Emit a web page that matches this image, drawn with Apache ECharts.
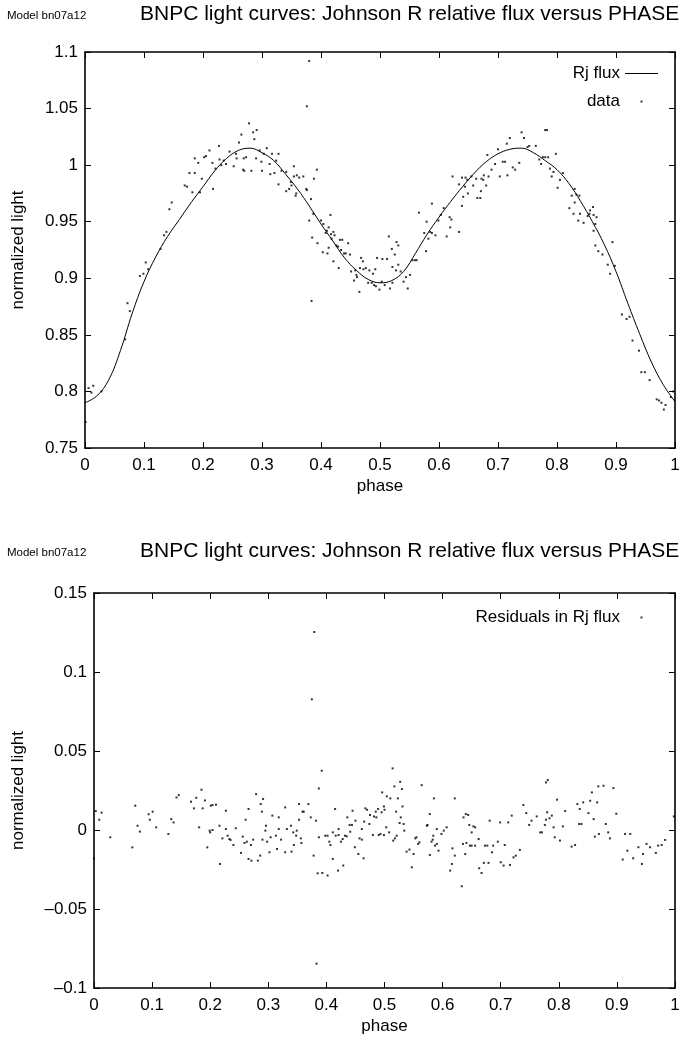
<!DOCTYPE html>
<html><head><meta charset="utf-8">
<script src="https://cdn.jsdelivr.net/npm/echarts@6/dist/echarts.min.js"></script>
<style>html,body{margin:0;padding:0;background:#fff}#c{width:684px;height:1042px}</style>
</head><body><div id="c"></div>
<script>
// ---------------- data ----------------
const modelName = 'Model bn07a12';
const chartTitle = 'BNPC light curves: Johnson R relative flux versus PHASE';
const xAxisName = 'phase';
const yAxisName = 'normalized light';
const seriesNames = ['Rj flux', 'data', 'Residuals in Rj flux'];

const modelPhase = [0.00,0.02,0.04,0.06,0.08,0.10,0.12,0.14,0.16,0.18,0.20,0.22,0.24,0.26,0.28,0.30,0.32,0.34,0.36,0.38,0.40,0.42,0.44,0.46,0.48,0.50,0.52,0.54,0.56,0.58,0.60,0.62,0.64,0.66,0.68,0.70,0.72,0.74,0.76,0.78,0.80,0.82,0.84,0.86,0.88,0.90,0.92,0.94,0.96,0.98,1.00];
const modelFlux = [0.790,0.796,0.810,0.836,0.869,0.897,0.919,0.937,0.952,0.967,0.981,0.995,1.006,1.013,1.015,1.011,1.004,0.992,0.979,0.964,0.948,0.933,0.918,0.907,0.899,0.896,0.898,0.906,0.922,0.939,0.954,0.968,0.981,0.993,1.003,1.010,1.014,1.015,1.011,1.004,0.996,0.984,0.968,0.950,0.930,0.906,0.878,0.851,0.826,0.806,0.791];

const observed = [
[0.001,0.773],[0.006,0.803],[0.011,0.799],[0.014,0.805],[0.028,0.800],[0.068,0.846],[0.072,0.878],[0.076,0.871],[0.093,0.902],[0.099,0.904],
[0.103,0.914],[0.107,0.908],[0.128,0.926],[0.134,0.938],[0.138,0.941],[0.143,0.961],[0.147,0.967],[0.169,0.982],[0.173,0.981],[0.177,0.993],
[0.186,0.993],[0.182,0.976],[0.186,1.006],[0.192,1.002],[0.195,0.976],[0.198,0.988],[0.202,1.007],[0.205,1.008],[0.211,1.013],[0.217,0.979],
[0.216,1.002],[0.221,0.997],[0.227,1.017],[0.228,1.005],[0.231,1.000],[0.235,1.004],[0.239,1.001],[0.245,1.012],[0.252,0.999],[0.256,1.010],
[0.257,1.006],[0.261,1.020],[0.265,1.027],[0.268,0.996],[0.270,0.995],[0.269,1.006],[0.273,1.007],[0.278,1.037],[0.282,0.995],[0.285,1.029],
[0.287,1.023],[0.291,1.031],[0.290,1.006],[0.296,1.013],[0.299,1.003],[0.300,0.995],[0.303,1.010],[0.308,1.015],[0.313,1.001],[0.314,0.992],
[0.317,1.010],[0.321,0.993],[0.324,1.004],[0.328,1.010],[0.328,0.983],[0.380,1.092],[0.376,1.052],[0.384,0.880],[0.333,0.995],[0.341,0.994],
[0.341,0.977],[0.346,0.979],[0.349,0.985],[0.350,0.982],[0.354,0.999],[0.354,0.990],[0.359,0.991],[0.363,0.989],[0.370,0.990],[0.358,0.975],
[0.357,0.973],[0.376,0.978],[0.375,0.979],[0.388,0.988],[0.393,0.996],[0.383,0.970],[0.380,0.951],[0.387,0.957],[0.385,0.936],[0.394,0.931],
[0.400,0.951],[0.404,0.948],[0.403,0.923],[0.408,0.940],[0.410,0.942],[0.413,0.945],[0.416,0.956],[0.411,0.922],[0.417,0.939],[0.421,0.941],
[0.418,0.935],[0.423,0.938],[0.413,0.927],[0.421,0.915],[0.426,0.929],[0.429,0.928],[0.432,0.934],[0.436,0.934],[0.430,0.909],[0.434,0.925],
[0.439,0.922],[0.442,0.922],[0.446,0.931],[0.449,0.921],[0.451,0.906],[0.458,0.907],[0.460,0.903],[0.461,0.901],[0.456,0.898],[0.465,0.888],
[0.468,0.918],[0.471,0.915],[0.466,0.909],[0.472,0.908],[0.476,0.909],[0.482,0.907],[0.488,0.904],[0.492,0.908],[0.480,0.896],[0.486,0.896],
[0.490,0.894],[0.493,0.893],[0.499,0.890],[0.495,0.918],[0.504,0.917],[0.512,0.917],[0.503,0.897],[0.508,0.894],[0.517,0.891],[0.521,0.896],
[0.515,0.937],[0.520,0.926],[0.525,0.921],[0.528,0.932],[0.531,0.929],[0.521,0.910],[0.527,0.907],[0.531,0.912],[0.535,0.906],[0.540,0.897],
[0.547,0.891],[0.544,0.901],[0.551,0.903],[0.555,0.916],[0.559,0.916],[0.562,0.916],[0.566,0.958],[0.575,0.940],[0.579,0.950],[0.578,0.924],
[0.582,0.935],[0.585,0.941],[0.588,0.940],[0.594,0.938],[0.588,0.966],[0.599,0.951],[0.603,0.956],[0.608,0.962],[0.613,0.937],[0.618,0.954],
[0.621,0.952],[0.619,0.945],[0.623,0.990],[0.634,0.941],[0.634,0.983],[0.639,0.989],[0.641,0.972],[0.644,0.981],[0.645,0.989],[0.648,0.987],
[0.649,0.975],[0.639,0.964],[0.655,0.990],[0.663,0.988],[0.658,0.982],[0.665,0.971],[0.670,0.971],[0.672,0.988],[0.676,0.991],[0.675,0.987],
[0.680,0.982],[0.671,0.977],[0.682,1.009],[0.684,0.990],[0.689,0.996],[0.695,1.001],[0.700,1.014],[0.703,0.990],[0.708,1.003],[0.712,1.003],
[0.715,1.019],[0.716,0.991],[0.720,1.024],[0.725,0.998],[0.729,0.996],[0.736,1.002],[0.740,1.029],[0.744,1.024],[0.750,1.016],[0.753,1.017],
[0.764,1.017],[0.770,1.005],[0.773,1.001],[0.776,1.007],[0.780,1.007],[0.785,1.007],[0.780,1.031],[0.783,1.031],[0.788,0.997],[0.791,0.990],
[0.794,0.994],[0.798,1.010],[0.801,0.980],[0.805,0.987],[0.810,0.993],[0.821,0.962],[0.825,0.973],[0.828,0.957],[0.830,0.967],[0.833,0.974],
[0.838,0.973],[0.836,0.951],[0.839,0.957],[0.830,0.979],[0.845,0.949],[0.852,0.955],[0.855,0.957],[0.856,0.960],[0.861,0.963],[0.862,0.956],
[0.865,0.948],[0.862,0.942],[0.867,0.954],[0.865,0.929],[0.870,0.924],[0.877,0.921],[0.886,0.912],[0.890,0.904],[0.894,0.932],[0.898,0.911],
[0.910,0.868],[0.918,0.864],[0.923,0.866],[0.928,0.845],[0.939,0.836],[0.943,0.817],[0.949,0.817],[0.957,0.810],[0.969,0.793],[0.973,0.792],
[0.977,0.790],[0.981,0.784],[0.984,0.788],[0.993,0.795],[0.997,0.800]
];

const residuals = [
[0.000,-0.018],[0.003,0.012],[0.009,0.0065],[0.013,0.011],[0.028,-0.0046],[0.066,-0.011],[0.071,0.0154],[0.075,0.0027],[0.079,-0.001],[0.094,0.010],
[0.096,0.0065],[0.101,0.0116],[0.107,0.0017],[0.128,-0.0025],[0.133,0.0069],[0.137,0.0048],[0.142,0.0206],[0.146,0.0221],[0.167,0.0179],[0.172,0.0137],
[0.176,0.0204],[0.181,0.0017],[0.185,0.0255],[0.187,0.0137],[0.191,0.0187],[0.195,-0.011],[0.199,-0.0004],[0.200,-0.0015],[0.204,0.0],[0.201,0.0154],
[0.204,0.0158],[0.210,0.016],[0.216,0.0027],[0.217,-0.0215],[0.221,-0.0053],[0.227,0.0122],[0.227,0.0006],[0.230,-0.0036],[0.233,-0.0057],[0.235,-0.0063],
[0.240,-0.0095],[0.244,0.0011],[0.253,-0.0145],[0.256,-0.0042],[0.259,-0.0082],[0.261,0.0065],[0.263,-0.0074],[0.266,0.0133],[0.270,-0.0095],[0.266,-0.0183],
[0.271,-0.0194],[0.274,-0.0061],[0.279,0.0227],[0.282,-0.0194],[0.286,-0.0162],[0.287,0.0164],[0.289,0.0116],[0.291,0.0196],[0.290,-0.0061],[0.295,-0.0004],
[0.296,0.0027],[0.298,-0.0074],[0.302,-0.0141],[0.304,-0.0046],[0.307,0.0091],[0.313,-0.0036],[0.315,-0.012],[0.318,0.008],[0.318,0.0006],[0.322,-0.0061],
[0.329,0.0143],[0.332,0.0006],[0.339,0.0027],[0.340,-0.0137],[0.329,-0.0141],[0.343,-0.0015],[0.344,-0.0095],[0.348,-0.0036],[0.349,-0.0004],[0.353,0.0164],
[0.353,0.0065],[0.356,-0.0053],[0.357,-0.0082],[0.359,0.0116],[0.361,0.0116],[0.369,0.0164],[0.373,0.008],[0.378,-0.0162],[0.382,0.0059],[0.387,-0.0046],
[0.379,0.1253],[0.375,0.0827],[0.383,-0.0846],[0.392,0.0375],[0.387,0.0263],[0.385,-0.0274],[0.393,-0.0272],[0.402,-0.0288],[0.398,-0.0036],[0.402,-0.0036],
[0.405,-0.0074],[0.407,-0.0095],[0.411,-0.0015],[0.411,-0.0183],[0.415,0.0133],[0.416,-0.0036],[0.421,-0.0032],[0.421,0.0006],[0.420,-0.0257],[0.425,-0.0074],
[0.428,-0.0057],[0.429,-0.0225],[0.432,-0.0036],[0.435,-0.004],[0.436,0.008],[0.440,0.0032],[0.441,-0.0011],[0.444,0.0032],[0.445,0.0122],[0.449,-0.0109],
[0.450,0.0059],[0.455,-0.0152],[0.457,-0.0053],[0.461,-0.0061],[0.461,0.0006],[0.464,-0.0179],[0.465,0.0053],[0.467,0.0137],[0.470,0.0128],[0.474,0.0038],
[0.475,0.0095],[0.480,-0.0032],[0.482,0.0086],[0.485,0.0116],[0.486,0.008],[0.489,0.0133],[0.490,-0.0032],[0.493,-0.0025],[0.495,0.0112],[0.496,0.0238],
[0.499,-0.0032],[0.499,0.0149],[0.500,0.0128],[0.503,0.0017],[0.504,0.0213],[0.508,-0.0015],[0.510,0.02],[0.515,-0.0067],[0.517,0.0276],[0.518,-0.0053],
[0.520,0.0116],[0.521,-0.0036],[0.523,0.02],[0.526,0.0044],[0.527,0.0305],[0.528,0.008],[0.530,0.0259],[0.531,0.0149],[0.533,0.0038],[0.534,-0.0004],
[0.514,0.039],[0.538,-0.0137],[0.543,-0.0124],[0.547,-0.0236],[0.550,-0.0152],[0.553,-0.0053],[0.555,-0.0046],[0.558,-0.0088],[0.560,-0.0078],[0.564,0.0284],
[0.573,0.0027],[0.574,0.0032],[0.578,-0.0158],[0.578,0.0101],[0.581,-0.0074],[0.583,-0.0061],[0.584,-0.0036],[0.585,0.02],[0.587,-0.0099],[0.590,0.0006],
[0.590,-0.0088],[0.593,-0.0131],[0.598,-0.0025],[0.602,-0.0004],[0.607,0.0017],[0.613,-0.0257],[0.616,-0.0215],[0.617,-0.0116],[0.621,-0.0162],[0.621,0.02],
[0.633,-0.0356],[0.635,-0.0088],[0.636,0.008],[0.639,-0.0152],[0.640,0.0101],[0.641,-0.0082],[0.644,0.0095],[0.646,0.0032],[0.647,-0.0099],[0.650,-0.0015],
[0.653,0.0023],[0.656,0.0017],[0.650,-0.0099],[0.656,-0.0099],[0.662,-0.0057],[0.663,-0.0242],[0.667,-0.0272],[0.671,-0.0208],[0.679,-0.0208],[0.673,-0.0099],
[0.677,-0.0099],[0.681,0.0059],[0.685,-0.0141],[0.687,-0.0099],[0.695,-0.0074],[0.699,0.0048],[0.700,-0.0204],[0.705,-0.0225],[0.707,-0.0095],[0.713,0.0048],
[0.716,-0.0221],[0.719,0.0091],[0.722,-0.0173],[0.726,-0.0162],[0.733,-0.0126],[0.739,0.0158],[0.744,0.0107],[0.749,0.0032],[0.753,0.0059],[0.762,0.0086],
[0.768,-0.0015],[0.771,-0.0015],[0.776,0.0032],[0.778,0.0065],[0.780,0.0112],[0.784,0.0074],[0.788,0.0091],[0.791,0.0017],[0.793,-0.0046],[0.797,0.0192],
[0.802,-0.0067],[0.807,0.0023],[0.811,0.012],[0.778,0.0301],[0.781,0.0316],[0.822,-0.0105],[0.828,-0.0095],[0.832,0.0164],[0.835,0.0038],[0.836,0.0133],
[0.839,0.0038],[0.842,0.0175],[0.851,0.0107],[0.854,0.0185],[0.857,0.0238],[0.860,0.0069],[0.862,-0.0042],[0.866,0.0175],[0.868,0.0276],[0.869,-0.0025],
[0.877,0.028],[0.881,0.0038],[0.885,-0.0015],[0.888,-0.0053],[0.894,0.0265],[0.899,0.0103],[0.910,-0.0187],[0.914,-0.0025],[0.918,-0.0131],[0.923,-0.0025],
[0.928,-0.0179],[0.937,-0.0109],[0.943,-0.0215],[0.945,-0.0152],[0.951,-0.0088],[0.957,-0.0109],[0.967,-0.0145],[0.971,-0.0099],[0.977,-0.0095],[0.983,-0.0063],
[0.998,0.0086]
];

// axis ranges
const xRange = {min: 0, max: 1, interval: 0.1};
const yRangeTop = {min: 0.75, max: 1.1, interval: 0.05};
const yRangeBottom = {min: -0.1, max: 0.15, interval: 0.05};

// ---------------- chart ----------------
const FONT = '"Liberation Sans", Arial, Helvetica, sans-serif';
const BLACK = '#000';
const TICK_FS = 17;

function fmt(v) {
  const r = Math.round(v * 1000) / 1000;
  const s = String(Math.abs(r));
  return r < 0 ? '\u2013' + s : s;
}

function axis(range, gridIndex, position, showLabels, name, nameGap) {
  const isX = position === 'bottom' || position === 'top';
  const a = {
    type: 'value', gridIndex, position,
    min: range.min, max: range.max, interval: range.interval,
    axisLine: {show: true, onZero: false, lineStyle: {color: BLACK, width: 1.6}},
    axisTick: {show: true, inside: true, length: 6, lineStyle: {color: BLACK, width: 1}},
    splitLine: {show: false},
    axisLabel: {
      show: showLabels, color: BLACK, fontSize: TICK_FS, fontFamily: FONT,
      margin: isX ? 9 : 7, formatter: fmt, showMinLabel: true, showMaxLabel: true
    }
  };
  if (name) {
    a.name = name;
    a.nameLocation = 'middle';
    a.nameGap = nameGap;
    a.nameTextStyle = {color: BLACK, fontSize: 17, fontFamily: FONT};
    if (!isX) a.nameRotate = 90;
  }
  return a;
}

const dotIcon = 'path://M0,0h0.01v0.01h-0.01zM16,0h2v2h-2zM33.99,1.99h0.01v0.01h-0.01z';

const titleStyle = (fs) => ({color: BLACK, fontSize: fs, fontWeight: 'normal', fontFamily: FONT});
const legendText = {color: BLACK, fontSize: 17, fontFamily: FONT};

const option = {
  backgroundColor: '#fff',
  animation: false,
  title: [
    {text: modelName, left: 7, top: 10, textStyle: titleStyle(11.5), padding: 0},
    {text: chartTitle, left: 140, top: 4, textStyle: titleStyle(21), padding: 0},
    {text: modelName, left: 7, top: 547, textStyle: titleStyle(11.5), padding: 0},
    {text: chartTitle, left: 140, top: 541, textStyle: titleStyle(21), padding: 0}
  ],
  legend: [
    {data: [{name: seriesNames[0], icon: 'rect'}], right: 26, top: 65, padding: 0, align: 'right', itemWidth: 33, itemHeight: 1.2, selectedMode: false, textStyle: legendText},
    {data: [{name: seriesNames[1], icon: dotIcon}], right: 26, top: 93, padding: 0, align: 'right', itemWidth: 33, itemHeight: 2, selectedMode: false, textStyle: legendText},
    {data: [{name: seriesNames[2], icon: dotIcon}], right: 26, top: 609, padding: 0, align: 'right', itemWidth: 33, itemHeight: 2, selectedMode: false, textStyle: legendText}
  ],
  grid: [
    {left: 85, top: 52, width: 590, height: 396},
    {left: 94, top: 593, width: 581, height: 395}
  ],
  xAxis: [
    axis(xRange, 0, 'bottom', true, xAxisName, 30),
    axis(xRange, 0, 'top', false),
    axis(xRange, 1, 'bottom', true, xAxisName, 30),
    axis(xRange, 1, 'top', false)
  ],
  yAxis: [
    axis(yRangeTop, 0, 'left', true, yAxisName, 58),
    axis(yRangeTop, 0, 'right', false),
    axis(yRangeBottom, 1, 'left', true, yAxisName, 67),
    axis(yRangeBottom, 1, 'right', false)
  ],
  series: [
    {
      name: seriesNames[0], type: 'line', xAxisIndex: 0, yAxisIndex: 0,
      data: modelPhase.map((p, i) => [p, modelFlux[i]]),
      smooth: 0.4, symbol: 'none', showSymbol: false,
      lineStyle: {color: BLACK, width: 1}, itemStyle: {color: BLACK}, z: 3
    },
    {
      name: seriesNames[1], type: 'scatter', xAxisIndex: 0, yAxisIndex: 0,
      data: observed, symbol: 'rect', symbolSize: 2, itemStyle: {color: BLACK}
    },
    {
      name: seriesNames[2], type: 'scatter', xAxisIndex: 2, yAxisIndex: 2,
      data: residuals, symbol: 'rect', symbolSize: 2, itemStyle: {color: BLACK}
    }
  ]
};

const chart = echarts.init(document.getElementById('c'), null, {renderer: 'canvas'});
chart.setOption(option);
</script></body></html>
